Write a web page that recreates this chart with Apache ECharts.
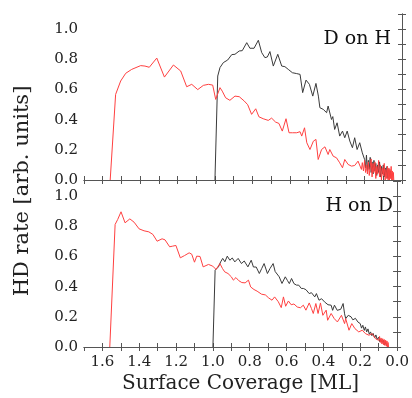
<!DOCTYPE html>
<html>
<head>
<meta charset="utf-8">
<script src="https://cdn.jsdelivr.net/npm/echarts@6/dist/echarts.min.js"></script>
<style>
  html, body { margin: 0; padding: 0; background: #fff; }
  #chart { width: 412px; height: 398px; }
</style>
</head>
<body>
<div id="chart"></div>
<script>
// tick values shown on the axes
var xTicks = [1.6, 1.4, 1.2, 1.0, 0.8, 0.6, 0.4, 0.2, 0.0];
var yTicks = [0.0, 0.2, 0.4, 0.6, 0.8, 1.0];

// D on H panel, [coverage ML, HD rate]
var dOnH_red = [
    [1.56, 0], [1.531, 0.567], [1.504, 0.656], [1.477, 0.707], [1.445, 0.733], [1.422, 0.745],
    [1.397, 0.758], [1.374, 0.755], [1.351, 0.747], [1.311, 0.808], [1.270, 0.682], [1.222, 0.762],
    [1.183, 0.722], [1.151, 0.618], [1.124, 0.634], [1.092, 0.599], [1.062, 0.627], [1.035, 0.634],
    [1.012, 0.629], [0.996, 0.534], [0.973, 0.612], [0.961, 0.589], [0.943, 0.545], [0.920, 0.528],
    [0.893, 0.556], [0.870, 0.552], [0.843, 0.523], [0.825, 0.499], [0.804, 0.435], [0.782, 0.472],
    [0.765, 0.419], [0.742, 0.406], [0.715, 0.395], [0.697, 0.410], [0.676, 0.384], [0.658, 0.375],
    [0.640, 0.324], [0.620, 0.406], [0.604, 0.313], [0.586, 0.313], [0.563, 0.313], [0.545, 0.320],
    [0.536, 0.291], [0.521, 0.346], [0.509, 0.247], [0.492, 0.202], [0.474, 0.257], [0.460, 0.269],
    [0.448, 0.136], [0.430, 0.202], [0.412, 0.220], [0.395, 0.169], [0.386, 0.202], [0.368, 0.158],
    [0.350, 0.147], [0.333, 0.114], [0.318, 0.081], [0.306, 0.136], [0.288, 0.103], [0.270, 0.092],
    [0.253, 0.096], [0.235, 0.125], [0.217, 0.070], [0.212, 0.115], [0.206, 0.06], [0.200, 0.13],
    [0.195, 0.05], [0.190, 0.10], [0.185, 0.04], [0.180, 0.12], [0.175, 0.03], [0.170, 0.09],
    [0.165, 0.14], [0.160, 0.02], [0.155, 0.11], [0.150, 0.05], [0.145, 0.12], [0.140, 0.01],
    [0.135, 0.09], [0.130, 0.04], [0.125, 0.13], [0.120, 0.02], [0.115, 0.10], [0.110, 0.0],
    [0.105, 0.08], [0.100, 0.03], [0.095, 0.11], [0.090, 0.0], [0.086, 0.07], [0.082, 0.01],
    [0.078, 0.09], [0.074, 0.0], [0.070, 0.08], [0.067, 0.0], [0.064, 0.07], [0.061, 0.01],
    [0.058, 0.09], [0.055, 0.0], [0.052, 0.06], [0.049, 0.0], [0.046, 0.05], [0.044, 0.0]
];
var dOnH_black = [
    [1.0, 0], [0.985, 0.689], [0.973, 0.745], [0.955, 0.778], [0.932, 0.795], [0.910, 0.831],
    [0.893, 0.833], [0.870, 0.855], [0.854, 0.857], [0.830, 0.910], [0.813, 0.873], [0.791, 0.873],
    [0.768, 0.926], [0.750, 0.844], [0.733, 0.811], [0.720, 0.815], [0.706, 0.851], [0.688, 0.755],
    [0.664, 0.833], [0.643, 0.755], [0.626, 0.751], [0.608, 0.733], [0.586, 0.711], [0.563, 0.705],
    [0.545, 0.700], [0.531, 0.579], [0.513, 0.662], [0.495, 0.634], [0.477, 0.556], [0.460, 0.640],
    [0.447, 0.556], [0.439, 0.479], [0.421, 0.468], [0.403, 0.446], [0.395, 0.490], [0.377, 0.401],
    [0.370, 0.420], [0.360, 0.335], [0.347, 0.379], [0.333, 0.291], [0.318, 0.324], [0.306, 0.280],
    [0.293, 0.324], [0.279, 0.258], [0.265, 0.214], [0.253, 0.280], [0.240, 0.202], [0.226, 0.247],
    [0.212, 0.180], [0.200, 0.136], [0.195, 0.08], [0.190, 0.165], [0.185, 0.06], [0.180, 0.13],
    [0.175, 0.07], [0.170, 0.15], [0.165, 0.05], [0.160, 0.12], [0.155, 0.04], [0.150, 0.13],
    [0.145, 0.06], [0.140, 0.11], [0.135, 0.03], [0.130, 0.10], [0.125, 0.05], [0.120, 0.12],
    [0.115, 0.02], [0.110, 0.09], [0.105, 0.04], [0.100, 0.10], [0.095, 0.02], [0.090, 0.08],
    [0.085, 0.03], [0.080, 0.09], [0.075, 0.01], [0.070, 0.07], [0.066, 0.02], [0.062, 0.06],
    [0.058, 0.01]
];

// H on D panel
var hOnD_red = [
    [1.56, 0], [1.531, 0.812], [1.517, 0.845], [1.499, 0.896], [1.477, 0.823], [1.451, 0.849],
    [1.428, 0.827], [1.401, 0.783], [1.374, 0.770], [1.348, 0.763], [1.326, 0.746], [1.303, 0.701],
    [1.276, 0.717], [1.260, 0.710], [1.235, 0.664], [1.220, 0.668], [1.201, 0.673], [1.177, 0.591],
    [1.154, 0.606], [1.129, 0.624], [1.115, 0.615], [1.100, 0.562], [1.088, 0.602], [1.070, 0.600],
    [1.053, 0.531], [1.024, 0.547], [1.001, 0.536], [0.983, 0.514], [0.962, 0.553], [0.948, 0.520],
    [0.936, 0.498], [0.918, 0.487], [0.900, 0.465], [0.889, 0.443], [0.875, 0.460], [0.860, 0.440],
    [0.843, 0.427], [0.825, 0.425], [0.807, 0.443], [0.795, 0.398], [0.777, 0.381], [0.760, 0.370],
    [0.736, 0.350], [0.715, 0.345], [0.697, 0.325], [0.679, 0.310], [0.665, 0.332], [0.645, 0.300],
    [0.629, 0.261], [0.617, 0.332], [0.605, 0.270], [0.590, 0.305], [0.575, 0.280], [0.560, 0.285],
    [0.542, 0.265], [0.525, 0.260], [0.509, 0.277], [0.495, 0.244], [0.477, 0.292], [0.465, 0.255],
    [0.455, 0.222], [0.441, 0.288], [0.429, 0.222], [0.416, 0.292], [0.403, 0.210], [0.385, 0.244],
    [0.377, 0.177], [0.358, 0.222], [0.341, 0.188], [0.324, 0.166], [0.302, 0.210], [0.285, 0.155],
    [0.279, 0.188], [0.261, 0.111], [0.246, 0.155], [0.229, 0.122], [0.208, 0.100], [0.189, 0.111],
    [0.172, 0.089], [0.153, 0.078], [0.135, 0.089], [0.118, 0.056], [0.100, 0.044], [0.095, 0.07],
    [0.091, 0.03], [0.087, 0.06], [0.082, 0.02], [0.078, 0.055], [0.074, 0.015], [0.070, 0.05],
    [0.066, 0.01], [0.062, 0.045], [0.058, 0.005], [0.055, 0.04], [0.052, 0.0], [0.049, 0.03],
    [0.046, 0.0]
];
var hOnD_black = [
    [1.0, 0], [0.988, 0.509], [0.970, 0.531], [0.958, 0.564], [0.947, 0.587], [0.935, 0.565],
    [0.922, 0.602], [0.908, 0.575], [0.895, 0.590], [0.881, 0.564], [0.863, 0.587], [0.845, 0.553],
    [0.830, 0.570], [0.810, 0.531], [0.792, 0.575], [0.780, 0.530], [0.765, 0.530], [0.748, 0.487],
    [0.735, 0.520], [0.722, 0.553], [0.704, 0.487], [0.690, 0.520], [0.673, 0.553], [0.662, 0.500],
    [0.652, 0.487], [0.640, 0.465], [0.625, 0.421], [0.607, 0.465], [0.595, 0.440], [0.585, 0.420],
    [0.573, 0.454], [0.560, 0.420], [0.546, 0.410], [0.534, 0.410], [0.520, 0.388], [0.509, 0.388],
    [0.495, 0.380], [0.477, 0.354], [0.465, 0.360], [0.447, 0.332], [0.438, 0.354], [0.424, 0.310],
    [0.410, 0.320], [0.394, 0.299], [0.375, 0.280], [0.358, 0.277], [0.350, 0.243], [0.340, 0.277],
    [0.325, 0.243], [0.306, 0.250], [0.293, 0.288], [0.285, 0.220], [0.279, 0.188], [0.265, 0.210],
    [0.250, 0.200], [0.240, 0.180], [0.226, 0.190], [0.213, 0.166], [0.200, 0.155], [0.193, 0.125],
    [0.186, 0.144], [0.178, 0.110], [0.172, 0.133], [0.165, 0.100], [0.158, 0.120], [0.151, 0.085],
    [0.144, 0.100], [0.137, 0.075], [0.130, 0.090], [0.122, 0.060], [0.115, 0.080], [0.108, 0.050],
    [0.100, 0.065], [0.094, 0.035], [0.088, 0.050], [0.081, 0.030], [0.075, 0.045], [0.069, 0.015],
    [0.062, 0.030], [0.058, 0.010]
];

var font = 'DejaVu Serif';
var axisColor = '#555';

function tickText(list) {
    return function (v) {
        var r = Math.round(v * 10) / 10;
        return list.indexOf(r) >= 0 ? r.toFixed(1) : '';
    };
}

function xAx(grid, pos, labels) {
    return {
        type: 'value', gridIndex: grid, position: pos, inverse: true,
        min: 0, max: 1.7, interval: 0.1,
        axisLine: { lineStyle: { color: axisColor, width: 1 } },
        axisTick: { inside: true, length: 4, lineStyle: { color: axisColor } },
        axisLabel: labels ? {
            show: true, margin: 8, fontFamily: font, fontSize: 15, color: '#222',
            showMaxLabel: false, formatter: tickText(xTicks)
        } : { show: false },
        splitLine: { show: false }
    };
}

function yAx(grid, pos, labels) {
    return {
        type: 'value', gridIndex: grid, position: pos,
        min: 0, max: 1.1, interval: 0.1,
        axisLine: { show: true, lineStyle: { color: axisColor, width: 1 } },
        axisTick: { show: true, inside: true, length: 4, lineStyle: { color: axisColor } },
        axisLabel: labels ? {
            show: true, margin: 6, fontFamily: font, fontSize: 15, color: '#222',
            formatter: tickText(yTicks)
        } : { show: false },
        splitLine: { show: false }
    };
}

function line(data, color, xi, yi) {
    return {
        type: 'line', data: data, xAxisIndex: xi, yAxisIndex: yi,
        showSymbol: false, animation: false,
        lineStyle: { color: color, width: 1 }
    };
}

var xBottom = xAx(1, 'bottom', true);
xBottom.name = 'Surface Coverage [ML]';
xBottom.nameLocation = 'middle';
xBottom.nameGap = 27;
xBottom.nameTextStyle = { fontFamily: font, fontSize: 20, color: '#222' };

var chart = echarts.init(document.getElementById('chart'), null, { renderer: 'canvas' });
chart.setOption({
    animation: false,
    backgroundColor: '#fff',
    grid: [
        { left: 84, top: 14, width: 318, height: 166 },
        { left: 84, top: 181, width: 318, height: 166 }
    ],
    xAxis: [xAx(0, 'bottom', false), xAx(0, 'top', false), xBottom, xAx(1, 'top', false)],
    yAxis: [yAx(0, 'left', true), yAx(0, 'right', false), yAx(1, 'left', true), yAx(1, 'right', false)],
    series: [
        line(dOnH_black, '#3a3a3a', 0, 0),
        line(dOnH_red, '#ff4040', 0, 0),
        line(hOnD_black, '#3a3a3a', 2, 2),
        line(hOnD_red, '#ff4040', 2, 2)
    ],
    graphic: [
        {
            type: 'text', x: 23, y: 191, rotation: Math.PI / 2,
            style: { text: 'HD rate [arb. units]', font: '21px "DejaVu Serif"', fill: '#222', align: 'center', verticalAlign: 'middle' }
        },
        {
            type: 'text', x: 391, y: 39,
            style: { text: 'D on H', font: '19px "DejaVu Serif"', fill: '#111', align: 'right', verticalAlign: 'middle' }
        },
        {
            type: 'text', x: 393, y: 206,
            style: { text: 'H on D', font: '19px "DejaVu Serif"', fill: '#111', align: 'right', verticalAlign: 'middle' }
        }
    ]
});
</script>
</body>
</html>
